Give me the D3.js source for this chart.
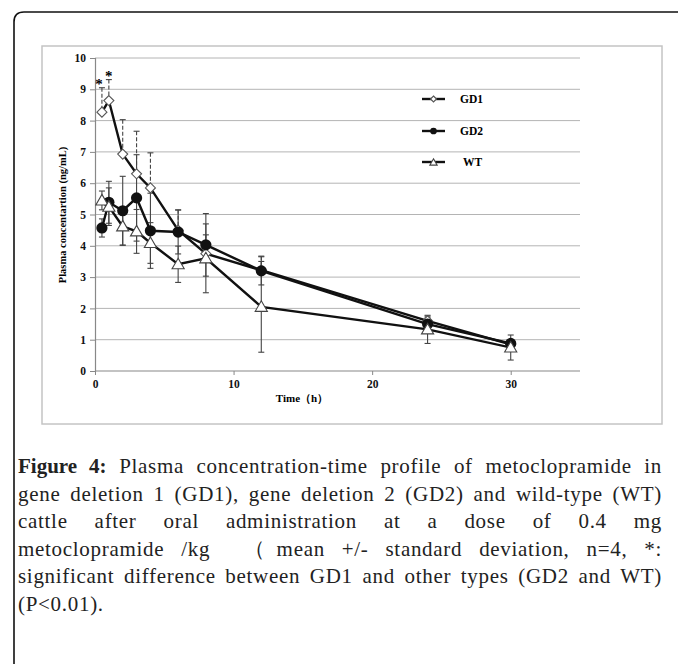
<!DOCTYPE html>
<html>
<head>
<meta charset="utf-8">
<script src="https://cdn.jsdelivr.net/npm/d3@7"></script>
<style>
  body { margin: 0; background: #fff; }
  #wrap { position: relative; width: 678px; height: 664px; overflow: hidden; }
  .cap { position: absolute; left: 18px; width: 644px; font-family: "Liberation Serif", serif;
         font-size: 21px; line-height: 24px; letter-spacing: 0.7px; color: #222; white-space: nowrap; }
  .cap.j { text-align: justify; text-align-last: justify; white-space: normal; }
  .cap b { letter-spacing: 0; }
</style>
</head>
<body>
<div id="wrap"></div>
<script>
// data
const times = [0.5, 1, 2, 3, 4, 6, 8, 12, 24, 30];
const gd1 = [8.27, 8.64, 6.93, 6.30, 5.85, 4.50, 3.75, 3.22, 1.60, 0.85];
const gd1Sd = [0.78, 0.67, 1.10, 1.36, 1.12, 0.65, 0.60, 0.45, 0.15, 0.10];
const gd2 = [4.57, 5.39, 5.12, 5.53, 4.48, 4.44, 4.03, 3.20, 1.50, 0.88];
const gd2Sd = [0.29, 0.67, 1.10, 1.38, 1.20, 0.70, 1.00, 0.45, 0.20, 0.10];
const wt = [5.45, 5.25, 4.62, 4.46, 4.09, 3.41, 3.60, 2.05, 1.33, 0.75];
const wtSd = [0.30, 0.60, 0.60, 0.70, 0.65, 0.58, 1.10, 1.45, 0.45, 0.40];
const yTicks = [0, 1, 2, 3, 4, 5, 6, 7, 8, 9, 10];
const xTicks = [0, 10, 20, 30];
const starTimes = [0.5, 1];
const legendNames = ["GD1", "GD2", "WT"];

const W = 678, H = 664;
const wrap = d3.select("#wrap");
const svg = wrap.append("svg").attr("width", W).attr("height", H)
  .style("position", "absolute").style("left", 0).style("top", 0);

// outer frame (only top/left visible)
svg.append("path")
  .attr("d", "M14,700 L14,22 Q14,12 24,12 L700,12")
  .attr("fill", "none").attr("stroke", "#111").attr("stroke-width", 1.6);

// chart area box
svg.append("rect").attr("x", 42).attr("y", 46).attr("width", 620).attr("height", 378)
  .attr("fill", "#fff").attr("stroke", "#c4c4c4").attr("stroke-width", 1.5);

const X = d3.scaleLinear().domain([0, 35]).range([95, 580]);
const Y = d3.scaleLinear().domain([0, 10]).range([371, 58]);

// grid
svg.append("g").selectAll("line").data(yTicks.filter(d => d > 0)).join("line")
  .attr("x1", X(0)).attr("x2", X(35)).attr("y1", d => Y(d)).attr("y2", d => Y(d))
  .attr("stroke", "#b4b4b4").attr("stroke-width", 1);

const fontAxis = "'Liberation Serif', 'Times New Roman', serif";

const yAxis = svg.append("g").attr("transform", `translate(${X(0)},0)`)
  .call(d3.axisLeft(Y).tickValues(yTicks).tickSize(5).tickPadding(4).tickFormat(d3.format("d")));
const xAxis = svg.append("g").attr("transform", `translate(0,${Y(0)})`)
  .call(d3.axisBottom(X).tickValues(xTicks).tickSize(4).tickPadding(5).tickFormat(d3.format("d")));
[yAxis, xAxis].forEach(a => {
  a.select(".domain").attr("stroke", "#888").attr("stroke-width", 1.2);
  a.selectAll(".tick line").attr("stroke", "#888");
  a.selectAll("text").attr("font-family", fontAxis).attr("font-weight", "bold")
    .attr("font-size", 11.5).attr("fill", "#111");
});
xAxis.select(".domain").attr("d", `M${X(0)},0H${X(35)}`);

svg.append("text").attr("x", 302).attr("y", 402).attr("text-anchor", "middle")
  .attr("font-family", fontAxis).attr("font-weight", "bold").attr("font-size", 11)
  .text("Time（h）");
svg.append("text").attr("transform", "translate(66,215) rotate(-90)").attr("text-anchor", "middle")
  .attr("font-family", fontAxis).attr("font-weight", "bold").attr("font-size", 10.5)
  .text("Plasma concentartion (ng/mL)");

const series = [
  {name: "GD1", vals: gd1, sd: gd1Sd, marker: "diamond", dash: "4,2", plusOnly: true},
  {name: "GD2", vals: gd2, sd: gd2Sd, marker: "circle", dash: null, plusOnly: false},
  {name: "WT", vals: wt, sd: wtSd, marker: "triangle", dash: null, plusOnly: false}
];

// error bars
series.forEach(s => {
  const g = svg.append("g").attr("stroke", "#444").attr("stroke-width", 1.1);
  times.forEach((t, i) => {
    const top = Y(s.vals[i] + s.sd[i]);
    const bot = s.plusOnly ? Y(s.vals[i]) : Y(s.vals[i] - s.sd[i]);
    g.append("line").attr("x1", X(t)).attr("x2", X(t)).attr("y1", top).attr("y2", bot)
      .attr("stroke-dasharray", s.dash);
    g.append("line").attr("x1", X(t) - 3).attr("x2", X(t) + 3).attr("y1", top).attr("y2", top);
    if (!s.plusOnly) g.append("line").attr("x1", X(t) - 3).attr("x2", X(t) + 3).attr("y1", bot).attr("y2", bot);
  });
});

const line = d3.line().x(d => X(d[0])).y(d => Y(d[1]));
series.forEach(s => {
  svg.append("path").datum(times.map((t, i) => [t, s.vals[i]])).attr("d", line)
    .attr("fill", "none").attr("stroke", "#111").attr("stroke-width", 2.4);
});

function drawMarker(g, type, cx, cy, sc) {
  if (type === "diamond") {
    g.append("path").attr("d", d3.symbol(d3.symbolDiamond2, 64 * sc * sc)())
      .attr("transform", `translate(${cx},${cy})`).attr("fill", "#fff").attr("stroke", "#555").attr("stroke-width", 1.1);
  } else if (type === "circle") {
    g.append("circle").attr("cx", cx).attr("cy", cy).attr("r", 5.6 * sc).attr("fill", "#111");
  } else {
    g.append("path").attr("d", d3.symbol(d3.symbolTriangle, 64 * sc * sc)())
      .attr("transform", `translate(${cx},${cy + 1})`).attr("fill", "#fff").attr("stroke", "#444").attr("stroke-width", 1.1);
  }
}
const mg = svg.append("g");
series.forEach(s => times.forEach((t, i) => drawMarker(mg, s.marker, X(t), Y(s.vals[i]), 1)));

// significance stars
svg.append("g").selectAll("text").data(starTimes).join("text")
  .attr("x", (d, i) => X(d) - (i === 0 ? 3 : 0))
  .attr("y", d => Y(gd1[times.indexOf(d)] + gd1Sd[times.indexOf(d)]) + 1)
  .attr("text-anchor", "middle").attr("font-family", fontAxis).attr("font-weight", "bold")
  .attr("font-size", 15).text("*");

// legend
const legY = [99, 131, 162];
legendNames.forEach((n, i) => {
  const s = series[i];
  svg.append("line").attr("x1", 422).attr("x2", 445).attr("y1", legY[i]).attr("y2", legY[i])
    .attr("stroke", "#111").attr("stroke-width", 2.4);
  drawMarker(svg, s.marker, 433.5, legY[i], 0.6);
  svg.append("text").attr("x", i === 2 ? 463 : 460).attr("y", legY[i] + 4)
    .attr("font-family", fontAxis).attr("font-weight", "bold").attr("font-size", 11.5).text(n);
});

// caption
const capLines = [
  ["<b>Figure 4:</b> Plasma concentration-time profile of metoclopramide in", true],
  ["gene deletion 1 (GD1), gene deletion 2 (GD2) and wild-type (WT)", true],
  ["cattle after oral administration at a dose of 0.4 mg", true],
  ["metoclopramide /kg \u00a0（mean +/- standard deviation, n=4, *:", true],
  ["significant difference between GD1 and other types (GD2 and WT)", true],
  ["(P&lt;0.01).", false]
];
capLines.forEach((c, i) => {
  wrap.append("div").attr("class", "cap" + (c[1] ? " j" : ""))
    .style("top", (454 + i * 27.6) + "px").html(c[0]);
});
</script>
</body>
</html>
